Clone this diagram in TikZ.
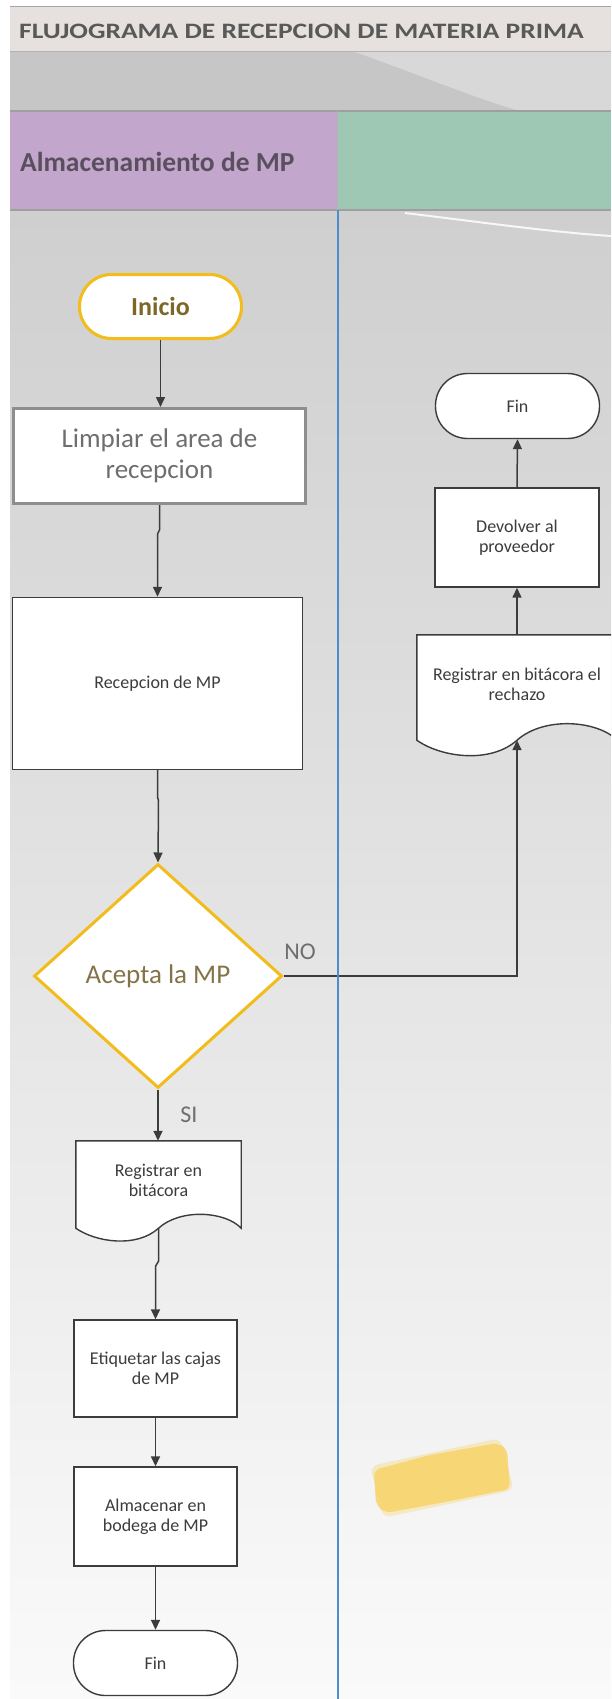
\documentclass[tikz,border=0pt]{standalone}
\usepackage{fontspec}
\setmainfont{Carlito}
\newfontfamily\widefont[FakeStretch=1.25]{Carlito}
\usetikzlibrary{shapes.geometric,arrows.meta,calc}

\definecolor{titlebg}{HTML}{E6E0DE}
\definecolor{titletxt}{HTML}{595959}
\definecolor{bandgray}{HTML}{C6C6C6}
\definecolor{bandlight}{HTML}{D8D8D8}
\definecolor{lanepurple}{HTML}{C3A6CB}
\definecolor{lanegreen}{HTML}{9EC8B4}
\definecolor{lanetxt}{HTML}{5A4F5E}
\definecolor{divblue}{HTML}{4A8ED0}
\definecolor{gold}{HTML}{F2BC1A}
\definecolor{goldtxt}{HTML}{7C6727}
\definecolor{olivetxt}{HTML}{837447}
\definecolor{ink}{HTML}{3C3C3C}
\definecolor{softgray}{HTML}{8E8E8E}
\definecolor{softtxt}{HTML}{6E6E6E}
\definecolor{bodytop}{HTML}{CFCFCF}
\definecolor{bodymid}{HTML}{EAEAEA}
\definecolor{bodybot}{HTML}{FAFAFA}
\definecolor{smudge}{HTML}{F8D469}

\begin{document}
\begin{tikzpicture}[x=1pt,y=-1pt,
  every node/.style={font=\fontsize{18}{20}\selectfont, align=center, inner sep=0pt},
  flow/.style={draw=ink, line width=1.5pt, -{Triangle[length=10pt,width=9pt]}},
  procbox/.style={rectangle, draw=ink, line width=1.4pt, fill=white, text=ink},
  termbox/.style={rectangle, rounded corners=32pt, draw=ink, line width=1.4pt, fill=white,
    text=ink, minimum width=164pt, minimum height=65pt},
  startbox/.style={rectangle, rounded corners=32pt, draw=gold, line width=3pt, fill=white,
    text=goldtxt, minimum width=162pt, minimum height=64pt,
    font=\bfseries\fontsize{26}{30}\selectfont},
  cleanbox/.style={rectangle, draw=softgray, line width=3pt, fill=white, text=softtxt,
    minimum width=292pt, minimum height=95pt, font=\fontsize{27}{31}\selectfont},
  decision/.style={diamond, aspect=1.1, draw=gold, line width=3pt, fill=white,
    text=olivetxt, minimum width=248pt, minimum height=224pt,
    font=\fontsize{27}{30}\selectfont},
  docbox/.style={rectangle, draw=none},
  docline/.style={draw=ink, line width=1.4pt, fill=white},
  branch/.style={text=softtxt, font=\fontsize{24}{28}\selectfont}
]
\useasboundingbox (0,0) rectangle (611,1699);
\begin{scope}
\clip (0,0) rectangle (611,1699);

% page ground
\fill[white] (0,0) rectangle (611,1699);

% title strip
\fill[titlebg] (10,7) rectangle (611,52);
\draw[gray!70, line width=1.2pt] (10,6.5) -- (611,6.5);
\node[anchor=base west, text=titletxt, font=\widefont\bfseries\fontsize{22}{26}\selectfont]
  (title) at (19,39) {FLUJOGRAMA DE RECEPCION DE MATERIA PRIMA};

% grey band under the title
\fill[bandgray] (10,52) rectangle (611,111);
\fill[bandlight] (355,52) .. controls (420,75) and (480,100) .. (520,111) -- (611,111) -- (611,52) -- cycle;
\draw[gray!60, line width=1pt] (10,52) -- (611,52);

% lane headers
\fill[lanepurple] (10,111) rectangle (337,210);
\fill[lanegreen] (338,111) rectangle (611,210);
\draw[gray!75, line width=1.5pt] (10,111) -- (611,111);
\draw[gray!75, line width=1.5pt] (10,210) -- (611,210);
\draw[gray!60, line width=1pt] (337.5,111) -- (337.5,210);
\node[anchor=base west, text=lanetxt, font=\bfseries\fontsize{27.5}{31}\selectfont]
  (lane) at (20,172) {Almacenamiento de MP};

% lane body
\shade[top color=bodytop, middle color=bodymid, bottom color=bodybot] (10,211) rectangle (611,1699);
\draw[white, opacity=0.85, line width=2pt] (405,213) .. controls (480,222) and (550,232) .. (611,236);

% highlighter mark
\fill[smudge, opacity=0.35, rounded corners=8pt] (370,1466) -- (500,1438) -- (514,1490) -- (383,1518) -- cycle;
\fill[smudge, opacity=0.85, rounded corners=6pt] (374,1470) -- (430,1455) -- (498,1443) -- (507,1449)
  -- (510,1489) -- (450,1501) -- (386,1513) -- (376,1505) -- cycle;

% left lane steps
\node[startbox] (ini) at (160.5,306.5) {Inicio};
\node[cleanbox] (limp) at (159.5,456) {Limpiar el area de\\recepcion};
\node[procbox, minimum width=290pt, minimum height=172pt] (rec) at (157.5,683.5) {Recepcion de MP};
\node[decision] (dia) at (158,976) {Acepta la MP};

\node[docbox, minimum width=165pt, minimum height=87pt] (reg) at (158.5,1184.5) {};
\path[docline] (reg.north west) -- (reg.north east) -- (reg.south east)
  .. controls +(-16,-17) and +(22,-20) .. (reg.south)
  .. controls +(-22,20) and +(20,14) .. (reg.south west) -- cycle;
\node[text=ink] (regtxt) at (158.5,1180) {Registrar en\\bitácora};

\node[procbox, minimum width=163pt, minimum height=97pt] (eti) at (155.5,1368.5) {Etiquetar las cajas\\de MP};
\node[procbox, minimum width=163pt, minimum height=99pt] (alm) at (155.5,1516.5) {Almacenar en\\bodega de MP};
\node[termbox] (fin1) at (155.5,1663) {Fin};

% right lane steps
\node[termbox] (fin2) at (517.5,406) {Fin};
\node[procbox, minimum width=164pt, minimum height=99pt] (dev) at (517,537.5) {Devolver al\\proveedor};
\node[docbox, minimum width=200pt, minimum height=105pt] (rej) at (517,687.5) {};
\path[docline] (rej.north west) -- (rej.north east) -- (rej.south east)
  .. controls +(-20,-20) and +(27,-24) .. (rej.south)
  .. controls +(-27,24) and +(24,17) .. (rej.south west) -- cycle;
\node[text=ink] (rejtxt) at (517,684) {Registrar en bitácora el\\rechazo};

% branch labels
\node[branch] (no) at (300,952) {NO};
\node[branch] (si) at (189,1115) {SI};

% connectors
\draw[flow] (ini.south) -- (ini.south |- limp.north);
\draw[flow] (limp.south) -- ++(0,25) -- ++(-2,4) -- (rec.north);
\draw[flow] (rec.south) -- ++(0,27) -- ++(1,3) -- (dia.north);
\draw[flow] (dia.south) -- (dia.south |- reg.north);
\draw[flow] (reg.south) -- ++(0,33) -- ++(-3,5) -- (eti.north);
\draw[flow] (eti.south) -- (alm.north);
\draw[flow] (alm.south) -- (fin1.north);
\draw[flow] (dia.east) -| (rej.south);
\draw[flow] (rej.north) -- (dev.south);
\draw[flow] (dev.north) -- (fin2.south);

% lane divider
\draw[divblue, line width=2pt] (338,210) -- (338,1699);
\end{scope}
\end{tikzpicture}
\end{document}
